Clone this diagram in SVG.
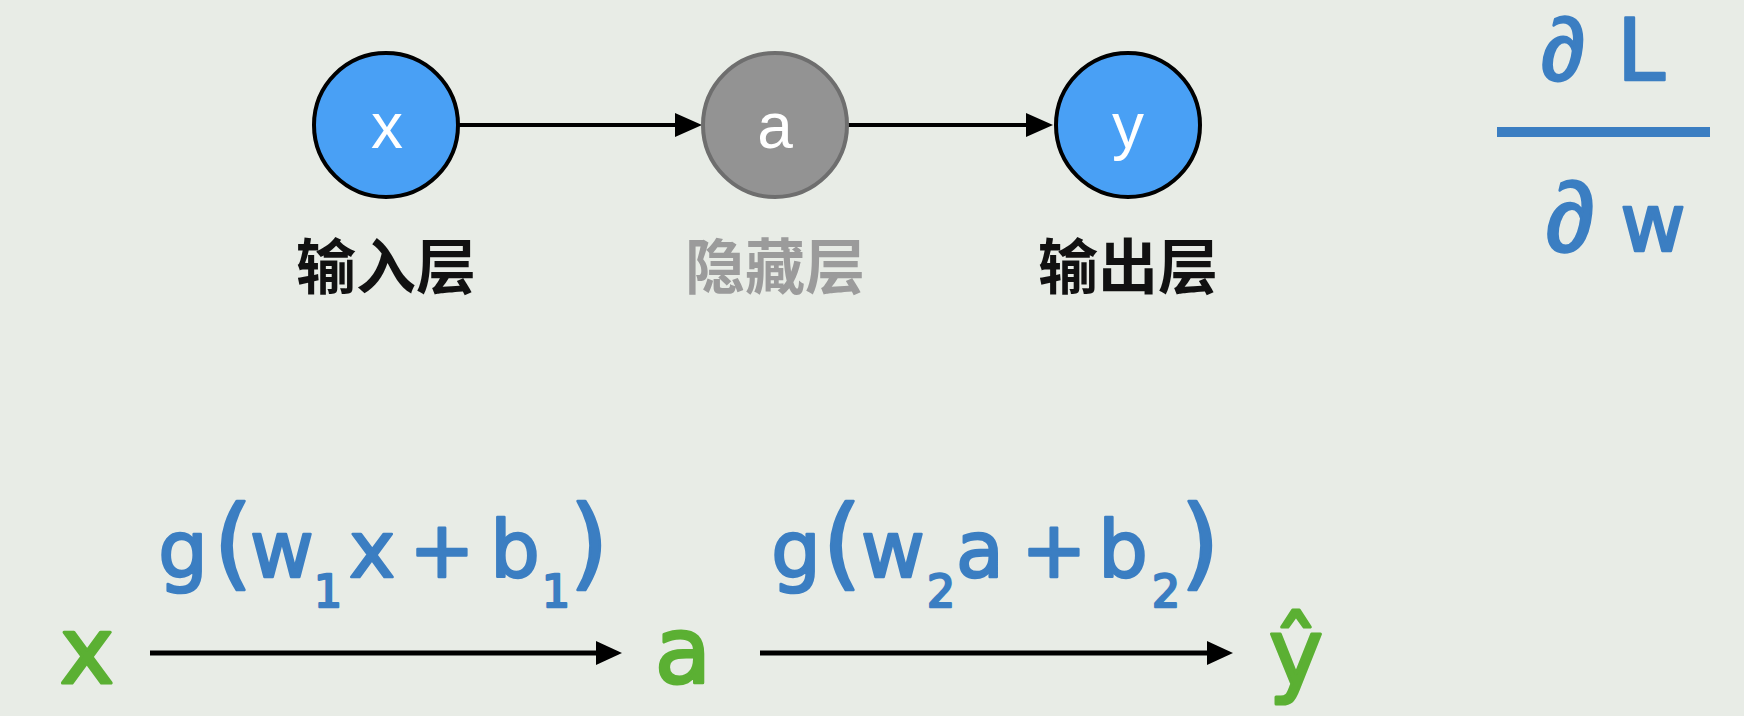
<svg xmlns="http://www.w3.org/2000/svg" width="1744" height="716" viewBox="0 0 1744 716">
<style>
.node-blue{fill:#49A0F5;stroke:#000;stroke-width:4}
.node-gray{fill:#939393;stroke:#6E6E6E;stroke-width:4}
.ntxt{font-family:"Liberation Sans",Arial,sans-serif;font-size:64px;fill:#fff;text-anchor:middle}
.lbl{font-family:"Noto Sans CJK SC","Noto Sans",sans-serif;font-size:60px;font-weight:700;text-anchor:middle}
.conn{stroke:#000;fill:none}
.math{font-family:"DejaVu Sans","Noto Sans",sans-serif;fill:#3B7EC2;stroke:#3B7EC2;stroke-width:2.5;stroke-linejoin:round;text-anchor:middle}
.pd{font-family:"Liberation Sans",Arial,sans-serif}
.green{font-family:"DejaVu Sans","Noto Sans",sans-serif;fill:#5BB033;stroke:#5BB033;stroke-width:3;stroke-linejoin:round;font-size:92px;text-anchor:middle}
</style>
<defs>
<marker id="ah" markerUnits="userSpaceOnUse" markerWidth="30" markerHeight="26" refX="5" refY="12" orient="auto">
<path d="M0,0 L27,12 L0,24 z" fill="#000"/>
</marker>
<marker id="ah2" markerUnits="userSpaceOnUse" markerWidth="30" markerHeight="26" refX="5" refY="12" orient="auto">
<path d="M0,0 L26,12 L0,24 z" fill="#000"/>
</marker>
</defs>
<rect x="0" y="0" width="1744" height="716" fill="#E8ECE6"/>

<g id="connectors">
<line class="conn" x1="458" y1="125" x2="680" y2="125" stroke-width="4" marker-end="url(#ah)"/>
<line class="conn" x1="848" y1="125" x2="1031" y2="125" stroke-width="4" marker-end="url(#ah)"/>
<line class="conn" x1="150" y1="653" x2="601" y2="653" stroke-width="5" marker-end="url(#ah2)"/>
<line class="conn" x1="760" y1="653" x2="1212" y2="653" stroke-width="5" marker-end="url(#ah2)"/>
</g>

<g id="node-x">
<circle class="node-blue" cx="386" cy="125" r="72"/>
<text class="ntxt" x="387" y="148">x</text>
<text class="lbl" x="386" y="289" fill="#111">输入层</text>
</g>
<g id="node-a">
<circle class="node-gray" cx="775" cy="125" r="72"/>
<text class="ntxt" x="775" y="148">a</text>
<text class="lbl" x="775" y="289" fill="#9B9B9B">隐藏层</text>
</g>
<g id="node-y">
<circle class="node-blue" cx="1128" cy="125" r="72"/>
<text class="ntxt" x="1128" y="148">y</text>
<text class="lbl" x="1128" y="289" fill="#111">输出层</text>
</g>

<g id="fraction">
<text class="math" font-size="86" y="80"><tspan class="pd" x="1563" font-size="88">∂</tspan><tspan x="1641">L</tspan></text>
<rect x="1497" y="127" width="213" height="10" fill="#3B7EC2"/>
<text class="math" font-size="80" y="251"><tspan class="pd" x="1570" font-size="98">∂</tspan><tspan x="1653">w</tspan></text>
</g>

<g id="formula-1">
<text class="math" font-size="78" y="577"><tspan x="183">g</tspan><tspan x="233" font-size="100">(</tspan><tspan x="282">w</tspan><tspan x="328" y="607" font-size="44">1</tspan><tspan x="372" y="577">x</tspan><tspan x="442">+</tspan><tspan x="515">b</tspan><tspan x="556" y="607" font-size="44">1</tspan><tspan x="589" y="577" font-size="100">)</tspan></text>
</g>
<g id="formula-2">
<text class="math" font-size="78" y="577"><tspan x="796">g</tspan><tspan x="842" font-size="100">(</tspan><tspan x="893">w</tspan><tspan x="941" y="607" font-size="44">2</tspan><tspan x="980" y="577">a</tspan><tspan x="1054">+</tspan><tspan x="1123">b</tspan><tspan x="1166" y="607" font-size="44">2</tspan><tspan x="1200" y="577" font-size="100">)</tspan></text>
</g>

<g id="seq-x"><text class="green" x="87" y="683">x</text></g>
<g id="seq-a"><text class="green" x="683" y="683">a</text></g>
<g id="seq-yhat"><text class="green" x="1296" y="685">ŷ</text></g>
</svg>
